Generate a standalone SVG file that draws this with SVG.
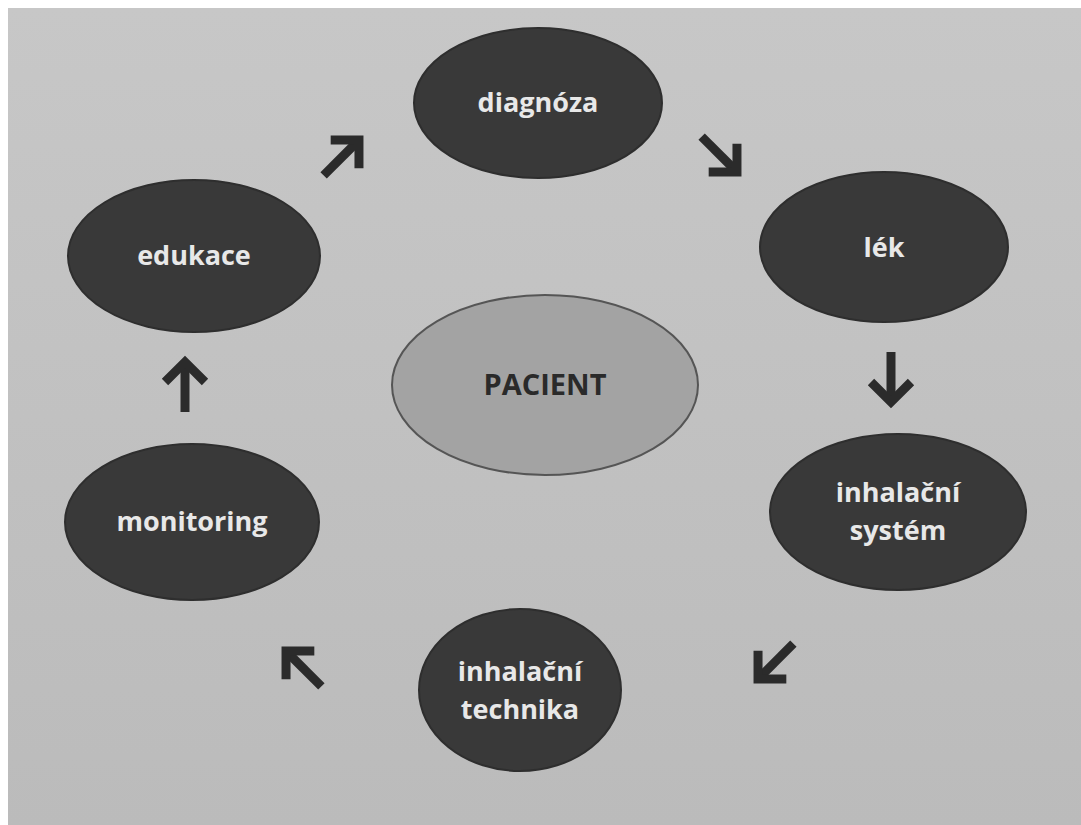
<svg xmlns="http://www.w3.org/2000/svg" width="1081" height="825" viewBox="0 0 1081 825">
  <defs>
    <linearGradient id="bg" x1="0" y1="0" x2="0" y2="1">
      <stop offset="0" stop-color="#c7c7c7"/>
      <stop offset="1" stop-color="#bbbbbb"/>
    </linearGradient>
    <g id="arr">
      <path d="M0,26 L0,-22" />
      <path d="M-20,-4 L0,-24 L20,-4" />
    </g>
  </defs>
  <style>
    .node { fill: #393939; stroke: #2e2e2e; stroke-width: 2; }
    .center { fill: #a3a3a3; stroke: #555555; stroke-width: 2; }
    .lbl { font-family: "Open Sans", "Liberation Sans", sans-serif; font-weight: bold; font-size: 27px; fill: #e8e8e8; text-anchor: middle; }
    .clbl { font-family: "Open Sans", "Liberation Sans", sans-serif; font-weight: bold; font-size: 29px; fill: #2a2a2a; text-anchor: middle; }
    .arrow { fill: none; stroke: #2b2b2b; stroke-width: 9; stroke-linejoin: miter; stroke-linecap: butt; }
  </style>
  <rect x="0" y="0" width="1081" height="825" fill="#ffffff"/>
  <rect x="8" y="8" width="1073" height="817" fill="url(#bg)"/>

  <g id="connectors" class="arrow">
    <use href="#arr" transform="translate(342,157) rotate(45)"/>
    <use href="#arr" transform="translate(720,155) rotate(135)"/>
    <use href="#arr" transform="translate(891,378) rotate(180)"/>
    <use href="#arr" transform="translate(775,662) rotate(225)"/>
    <use href="#arr" transform="translate(303,668) rotate(315)"/>
    <use href="#arr" transform="translate(185,386)"/>
  </g>

  <g id="diagnoza">
    <ellipse class="node" cx="538" cy="103" rx="124" ry="75"/>
    <text class="lbl" x="538" y="112">diagnóza</text>
  </g>
  <g id="lek">
    <ellipse class="node" cx="884" cy="247" rx="124" ry="75"/>
    <text class="lbl" x="884" y="257">lék</text>
  </g>
  <g id="inhalacni-system">
    <ellipse class="node" cx="898" cy="512" rx="128" ry="78"/>
    <text class="lbl" x="898" y="502">inhalační</text>
    <text class="lbl" x="898" y="540">systém</text>
  </g>
  <g id="inhalacni-technika">
    <ellipse class="node" cx="520" cy="690" rx="101" ry="81"/>
    <text class="lbl" x="520" y="681">inhalační</text>
    <text class="lbl" x="520" y="719">technika</text>
  </g>
  <g id="monitoring">
    <ellipse class="node" cx="192" cy="522" rx="127" ry="78"/>
    <text class="lbl" x="192" y="531">monitoring</text>
  </g>
  <g id="edukace">
    <ellipse class="node" cx="194" cy="256" rx="126" ry="76"/>
    <text class="lbl" x="194" y="265">edukace</text>
  </g>
  <g id="pacient">
    <ellipse class="center" cx="545" cy="385" rx="153" ry="90"/>
    <text class="clbl" x="545" y="395">PACIENT</text>
  </g>
</svg>
